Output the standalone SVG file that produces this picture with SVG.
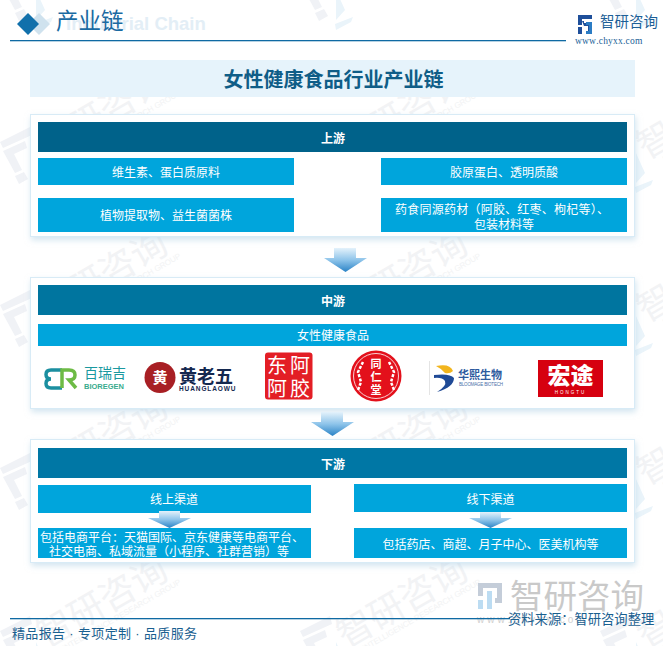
<svg xmlns="http://www.w3.org/2000/svg" xmlns:xlink="http://www.w3.org/1999/xlink" width="663" height="646" viewBox="0 0 663 646">
<style>
text{font-family:"Liberation Sans","Noto Sans CJK SC",sans-serif;font-kerning:none}
.c{text-anchor:middle}
.w{fill:#fff;font-size:12px;text-anchor:middle}
.h{fill:#fff;font-size:12px;font-weight:700;text-anchor:middle}
.b{fill:#00a5dc}
.card{fill:#fff;stroke:#d8ebf6;stroke-width:1;filter:url(#sh)}
.wmt{font-size:36px;fill:#f2f3f5}
.wme{font-size:8px;fill:#f2f3f4;font-family:"Liberation Sans",sans-serif}
.wmg{fill:#f0f2f6}
.wmb{fill:#eaf4fa}
</style>
<defs>
<filter id="sh" x="-5%" y="-10%" width="110%" height="125%"><feDropShadow dx="1" dy="3" stdDeviation="3" flood-color="#b5d3e6" flood-opacity=".6"/></filter>
<linearGradient id="ag" x1="0" y1="0" x2="0" y2="1"><stop offset="0" stop-color="#e4f2fb"/><stop offset=".5" stop-color="#8ec4ea"/><stop offset="1" stop-color="#2a83c6"/></linearGradient>
<path id="arrow" d="M10 0H32V10H43L21.500 24L0 10H10Z" fill="url(#ag)"/>
<g id="wm">
<path class="wmg" d="M-46 -18L-16 -33L-14 -25L-43 -12ZM-43 -9L-21 -19L-19 -12L-32 -6L-24 10L-31 13ZM-31 16L-22 12L-18 19L-27 24Z"/>
<path class="wmb" d="M-10 -7L-1 13L-10 23ZM-11 27L7 20L5 25L-10 33Z"/>
<g transform="rotate(-30)">
<text class="wmt" x="0" y="0">智研咨询</text>
<text class="wme" x="15" y="11" textLength="135">INTELLIGENCE RESEARCH GROUP</text>
</g>
</g>
</defs>
<rect width="663" height="646" fill="#fff"/>
<g id="watermarks">
<use xlink:href="#wm" x="46" y="-3"/><use xlink:href="#wm" x="346" y="-3"/><use xlink:href="#wm" x="646" y="-3"/>
<use xlink:href="#wm" x="46" y="160"/><use xlink:href="#wm" x="346" y="160"/><use xlink:href="#wm" x="646" y="160"/>
<use xlink:href="#wm" x="46" y="323"/><use xlink:href="#wm" x="346" y="323"/><use xlink:href="#wm" x="646" y="323"/>
<use xlink:href="#wm" x="46" y="486"/><use xlink:href="#wm" x="346" y="486"/><use xlink:href="#wm" x="646" y="486"/>
<use xlink:href="#wm" x="46" y="649"/><use xlink:href="#wm" x="346" y="649"/><use xlink:href="#wm" x="646" y="649"/>
</g>
<g id="header">
<path d="M39 13L50 24L39 35L28 24Z" fill="#cfe2ee"/>
<path d="M28 13L39 24L28 35L17 24Z" fill="#1170ab"/>
<text x="66" y="30" font-size="18.500" font-weight="700" fill="#e3eef6">Industrial Chain</text>
<text x="56" y="29" font-size="22.500" fill="#1a6aa2">产业链</text>
<rect x="10" y="40" width="556" height="1.300" fill="#0f6aa3"/>
<path d="M578 15h14v4h-10v6h-4zM578 27h4v7h-4zM584 26h4v8h4v-11h-8v-2h-2" fill="#1f4f9a"/>
<path d="M586 22h6v12h-6v-3h3v-6h-3z" fill="#2b7cc4"/>
<text x="600" y="27" font-size="14.500" fill="#1d5f97">智研咨询</text>
<text x="575" y="44" font-size="9.500" letter-spacing=".2" fill="#1d5f97" style="font-family:'Liberation Serif',serif">www.chyxx.com</text>
</g>
<g id="title">
<rect x="30" y="60" width="605" height="37" fill="#e6f3fb"/>
<text x="333.500" y="87" class="c" font-size="20" font-weight="700" fill="#0f5d87">女性健康食品行业产业链</text>
</g>
<g id="upstream">
<rect class="card" x="30.500" y="114.500" width="604" height="122"/>
<rect x="38" y="122" width="589" height="30" fill="#00628a"/>
<text class="h" x="333" y="143">上游</text>
</g>
<g id="up-1"><rect class="b" x="38" y="158" width="256" height="27"/><text class="w" x="166" y="176.500">维生素、蛋白质原料</text></g>
<g id="up-2"><rect class="b" x="381" y="158" width="246" height="27"/><text class="w" x="504" y="176.500">胶原蛋白、透明质酸</text></g>
<g id="up-3"><rect class="b" x="38" y="198" width="256" height="34"/><text class="w" x="166" y="220">植物提取物、益生菌菌株</text></g>
<g id="up-4"><rect class="b" x="381" y="198" width="246" height="34"/><text class="w" x="502" y="214" textLength="214">药食同源药材（阿胶、红枣、枸杞等）、</text><text class="w" x="504" y="229">包装材料等</text></g>
<g id="midstream">
<rect class="card" x="30.500" y="277.500" width="604" height="131"/>
<rect x="38" y="285" width="589" height="30" fill="#00759f"/>
<text class="h" x="333" y="306">中游</text>
<rect class="b" x="38" y="324" width="589" height="22"/>
<text class="w" x="333" y="340">女性健康食品</text>
</g>
<g id="logo-bioregen">
<path d="M62 370H51q-5 0-5 4.500t5 4.500q-5 0-5 4.500t5 4.500h11" fill="none" stroke="#1b8fa0" stroke-width="3.500"/>
<path d="M62 388v-18h7q6 0 6 5t-6 5l7 8" fill="none" stroke="#6dbb45" stroke-width="3.500"/>
<text x="84" y="378" font-size="14" fill="#1a99a0">百瑞吉</text>
<text x="84" y="389" font-size="7.500" font-weight="700" fill="#38ab8e">BIOREGEN</text>
</g>
<g id="logo-huanglaowu">
<circle cx="160" cy="377.500" r="15.500" fill="#a81f24"/>
<text x="160" y="383" class="c" font-size="15" font-weight="700" fill="#fff">黄</text>
<text x="179" y="383" font-size="18" font-weight="700" fill="#14284f">黄老五</text>
<text x="179" y="390.500" font-size="6.500" font-weight="700" letter-spacing=".9" fill="#14284f">HUANGLAOWU</text>
</g>
<g id="logo-dongeejiao">
<rect x="265" y="352.500" width="47.500" height="47" rx="3" fill="#e31e25"/>
<g font-size="20" fill="#fff" class="c"><text x="277" y="373">东</text><text x="300" y="373">阿</text><text x="277" y="396">阿</text><text x="300" y="396">胶</text></g>
</g>
<g id="logo-tongrentang">
<circle cx="376" cy="376" r="25.500" fill="#e3101b"/>
<circle cx="376" cy="376" r="22.500" fill="none" stroke="#fff" stroke-width=".8"/>
<g font-size="11" font-weight="700" fill="#fff" class="c"><text x="376" y="368">同</text><text x="376" y="381">仁</text><text x="376" y="394">堂</text></g>
<path d="M363 362l-5 10 3 10-3 8M389 362l5 10-3 10 3 8" fill="none" stroke="#fff" stroke-width="2.500" stroke-dasharray="3 1.500"/>
</g>
<g id="logo-bloomage">
<rect x="429" y="361" width="1" height="34" fill="#e4e4e4"/>
<path d="M436 366q14-3 17 5-3 3-8 2-3-4-9-7z" fill="#f2b51d"/>
<path d="M434 375q16-2 20 3 0 9-17 14q10-6 8-11-3-4-11-3z" fill="#1f4a96"/>
<text x="458" y="379" font-size="11" font-weight="700" fill="#2d5a9e">华熙生物</text>
<text x="459" y="386" font-size="4.500" fill="#4a70a8" textLength="44">BLOOMAGE BIOTECH</text>
</g>
<g id="logo-hongtu">
<rect x="538" y="360" width="65" height="37" fill="#d6000f"/>
<text x="570.500" y="384" class="c" font-size="23" font-weight="900" fill="#fff">宏途</text>
<text x="570.500" y="394" class="c" font-size="4.500" letter-spacing="2" fill="#fff">HONGTU</text>
</g>
<g id="connectors">
<use xlink:href="#arrow" x="324" y="248"/>
<use xlink:href="#arrow" x="311" y="412"/>
</g>
<g id="downstream">
<rect class="card" x="30.500" y="439.500" width="604" height="123"/>
<rect x="38" y="448" width="589" height="30" fill="#0077a5"/>
<text class="h" x="333" y="469">下游</text>
</g>
<g id="down-online"><rect class="b" x="38" y="485" width="273" height="28"/><text class="w" x="174" y="504">线上渠道</text></g>
<g id="down-offline"><rect class="b" x="354" y="484" width="273" height="28"/><text class="w" x="490.500" y="504">线下渠道</text></g>
<g id="down-online-d"><rect class="b" x="38" y="528" width="273" height="30"/><text class="w" x="172" y="542">包括电商平台：天猫国际、京东健康等电商平台、</text><text class="w" x="169" y="556">社交电商、私域流量（小程序、社群营销）等</text></g>
<g id="down-offline-d"><rect class="b" x="354" y="528" width="273" height="30"/><text class="w" x="490.500" y="549">包括药店、商超、月子中心、医美机构等</text></g>
<g id="connectors-small">
<path d="M159 511H180V518H191L169.500 528L148 518H159Z" fill="url(#ag)"/>
<path d="M480 512H501V518H512L490.500 528L469 518H480Z" fill="url(#ag)"/>
</g>
<g id="footer">
<path d="M478 583h16v5h-11v8h-5zM497 583h5v20h-7v-5h2v-10h-5v-5z" fill="#c4cdd9"/>
<path d="M478 600h5v9h-5zM487 591h5v18h-5z" fill="#bcdcf2"/>
<text x="510" y="608" font-size="33.500" fill="#c9c9c9">智研咨询</text>
<text x="477" y="623" font-size="10" letter-spacing="3" fill="#d0d0d0">www.chyxx.com</text>
<rect x="10" y="618" width="500" height="1.300" fill="#0f6aa3"/>
<text x="508" y="624" font-size="13.300" fill="#1a6090">资料来源：智研咨询整理</text>
<text x="12" y="638" font-size="13" textLength="185" fill="#1a6090">精品报告 · 专项定制 · 品质服务</text>
</g>
</svg>
